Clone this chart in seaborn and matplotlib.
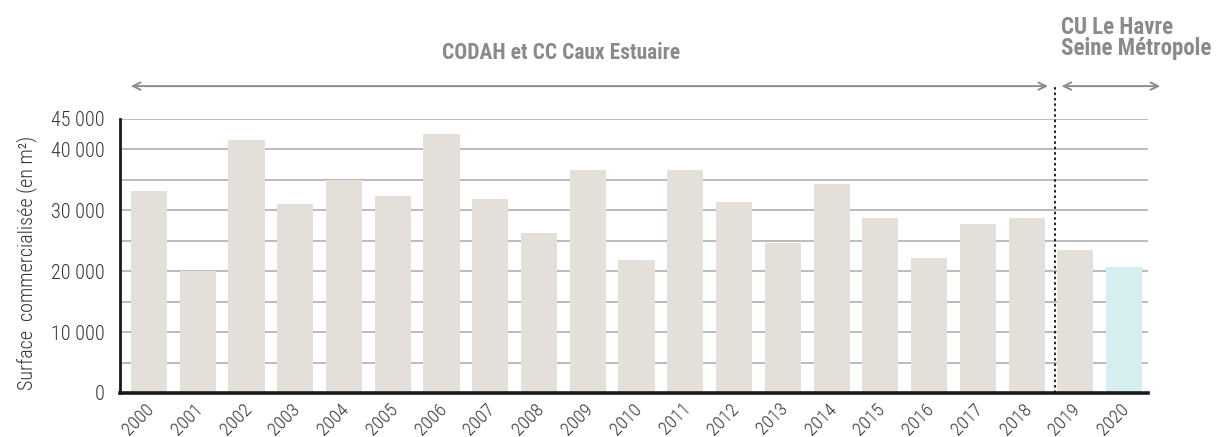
import numpy as np
import pandas as pd
import seaborn as sns
import matplotlib.pyplot as plt
import matplotlib.transforms as mtransforms
from matplotlib.ticker import FixedLocator, FuncFormatter

# data
years = [str(y) for y in range(2000, 2021)]
surface = [33100, 20000, 41500, 31000, 34900, 32300, 42500, 31800, 26200, 36600,
           21900, 36600, 31300, 24700, 34400, 28800, 22100, 27700, 28700, 23500, 20700]
bar_colors = ['#e4e0d9'] * 20 + ['#d5eef0']
y_ticks = [0, 10000, 20000, 30000, 40000, 45000]
grid_lines = list(range(0, 45001, 5000))
period_1 = 'CODAH et CC Caux Estuaire'
period_2 = 'CU Le Havre\nSeine Métropole'

df = pd.DataFrame({'annee': years, 'surface': surface})

sns.set_theme(style='white')
plt.rcParams['font.family'] = ['Roboto Condensed', 'Liberation Sans Narrow', 'Roboto', 'DejaVu Sans']

fig = plt.figure(figsize=(12.22, 4.37), dpi=100)
ax = fig.add_axes([0.0982, 0.1007, 0.8412, 0.627])

sns.barplot(data=df, x='annee', y='surface', hue='annee', palette=bar_colors,
            legend=False, width=0.74, saturation=1, linewidth=0, ax=ax, zorder=2)

ax.set_ylim(0, 45000)
ax.set_xlim(-0.595, 20.49)

# gridlines every 5000, labels only on some
ax.yaxis.set_major_locator(FixedLocator(y_ticks))
ax.yaxis.set_major_formatter(FuncFormatter(lambda v, p: f'{int(v):,}'.replace(',', ' ')))
for g in grid_lines[1:]:
    ax.axhline(g, color='#a8a8a8', lw=1.1, zorder=1)

for s in ['top', 'right']:
    ax.spines[s].set_visible(False)
ax.spines['left'].set_color('#1a1a1a')
ax.spines['left'].set_linewidth(2)
ax.spines['bottom'].set_color('#1a1a1a')
ax.spines['bottom'].set_linewidth(2.6)
ax.spines['bottom'].set_zorder(3)

ax.tick_params(axis='y', length=0, pad=11, labelsize=14.5, labelcolor='#333333')
ax.tick_params(axis='x', length=0, pad=5, labelsize=13.5, labelcolor='#333333')
for lab in ax.get_yticklabels() + ax.get_xticklabels():
    lab.set_fontweight('light')
plt.setp(ax.get_xticklabels(), rotation=45, ha='right', va='top', rotation_mode='anchor')
shift = mtransforms.ScaledTranslation(-4 / 100, 0, fig.dpi_scale_trans)
for lab in ax.get_xticklabels():
    lab.set_transform(lab.get_transform() + shift)

ax.set_xlabel('')
ax.set_ylabel('Surface  commercialisée (en m²)', fontsize=14.5, fontweight='light',
              color='#333333')
ax.yaxis.set_label_coords(-0.081, 0.474)

# period separator and arrows
trans = ax.get_xaxis_transform()
ax.vlines(18.58, 0, 1.12, transform=trans, colors='#111111', lw=1.3,
          linestyles=(0, (1.4, 1.6)), clip_on=False, zorder=4)
arrow_kw = dict(arrowstyle='<->,head_length=0.45,head_width=0.22', color='#8c8c8c', lw=1.4)
ax.annotate('', xy=(-0.43, 1.12), xytext=(18.5, 1.12), xycoords=trans,
            textcoords=trans, arrowprops=arrow_kw, annotation_clip=False)
ax.annotate('', xy=(18.66, 1.12), xytext=(20.8, 1.12), xycoords=trans,
            textcoords=trans, arrowprops=arrow_kw, annotation_clip=False)

ax.text(8.45, 1.24, period_1, transform=trans, ha='center', va='center',
        fontsize=15.5, fontweight='bold', color='#8a8a8a')
ax.text(18.7, 1.375, period_2, transform=trans, ha='left', va='top',
        fontsize=16.5, fontweight='bold', color='#8a8a8a', linespacing=0.88)

fig.savefig('out.png', dpi=100)
